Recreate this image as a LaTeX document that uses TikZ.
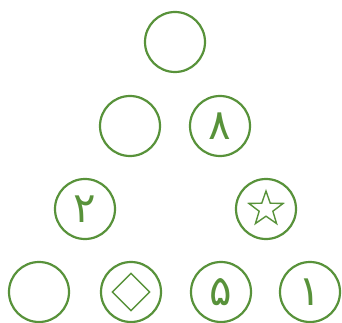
\documentclass[tikz,border=0pt]{standalone}
\usepackage{fontspec}
\newfontfamily\persfont[Script=Arabic]{DejaVu Sans}
\usetikzlibrary{shapes.geometric}
\definecolor{ringgreen}{RGB}{88,146,58}
\tikzset{
  ring/.style={draw=ringgreen,line width=2.2pt,circle,minimum size=60pt,inner sep=0pt,
    text=ringgreen,font=\persfont\fontsize{42}{42}\selectfont},
  mark shape/.style={draw=ringgreen,line width=1.4pt,inner sep=0pt}
}
\begin{document}
\begin{tikzpicture}[x=1pt,y=-1pt]
\useasboundingbox (0,0) rectangle (342,323);
% top of the triangle
\node[ring] (apex) at (175,42) {};
% second row
\node[ring] (twoL) at (130,126) {};
\node[ring] (twoR) at (220,126) {۸};
% third row
\node[ring] (threeL) at (85,209) {۲};
\node[ring] (threeR) at (266,209) {};
\node[mark shape,star,star points=5,star point ratio=2.5,minimum size=36pt] (starmark) at (threeR) {};
% bottom row
\node[ring] (fourA) at (39,292) {};
\node[ring] (fourB) at (131,292) {};
\node[mark shape,diamond,minimum width=38pt,minimum height=38pt] (diamark) at (fourB) {};
\node[ring] (fourC) at (221,292) {۵};
\node[ring] (fourD) at (310,292) {۱};
\end{tikzpicture}
\end{document}
